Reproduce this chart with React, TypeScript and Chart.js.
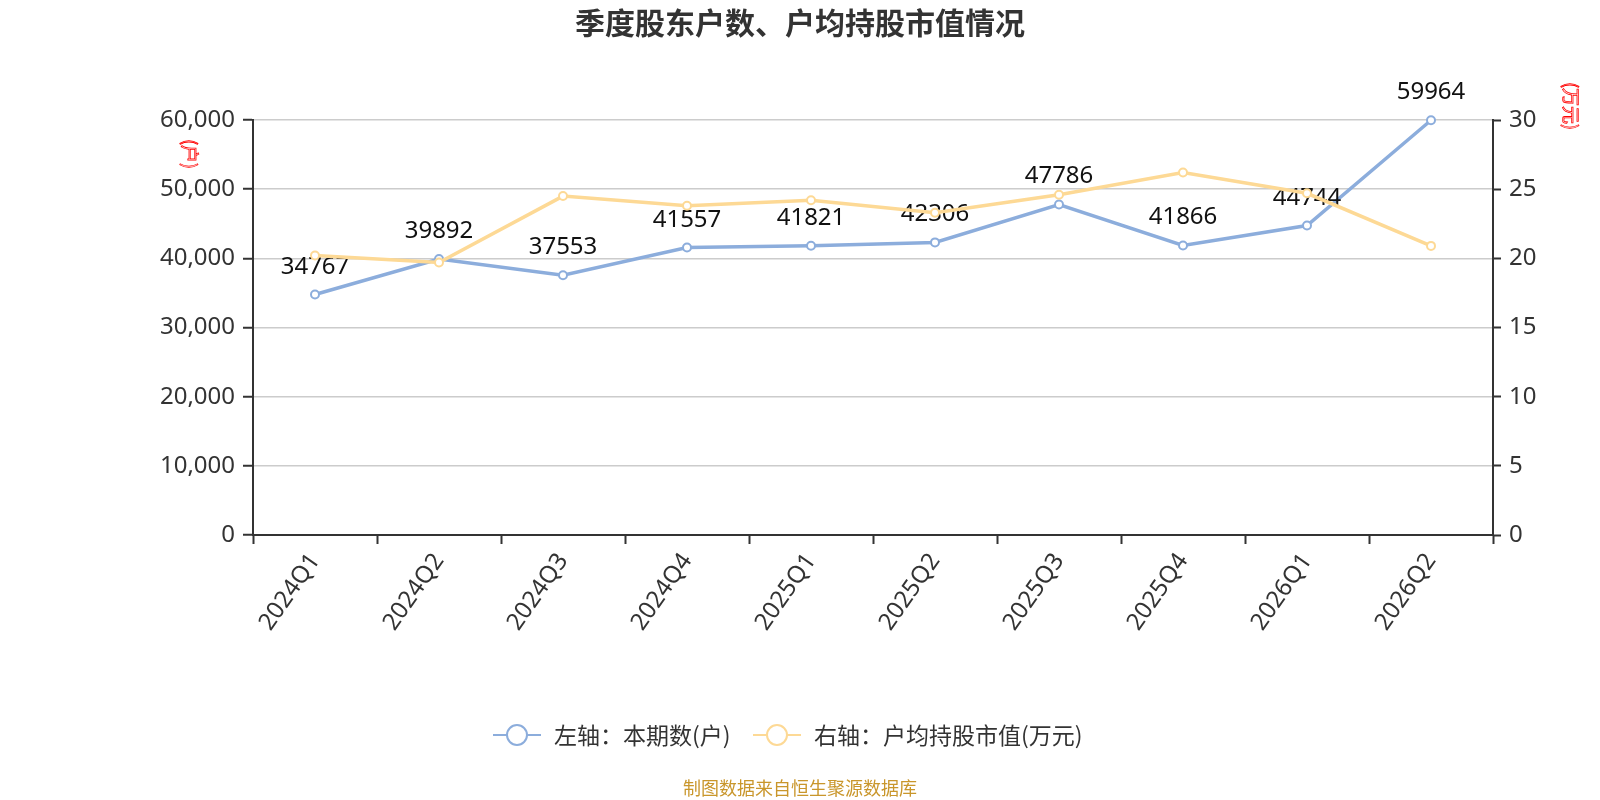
import React, { useEffect, useRef } from 'react';
import { Chart, registerables } from 'chart.js';

Chart.register(...registerables);

const quarters = ['2024Q1', '2024Q2', '2024Q3', '2024Q4', '2025Q1', '2025Q2', '2025Q3', '2025Q4', '2026Q1', '2026Q2'];
const holders = [34767, 39892, 37553, 41557, 41821, 42306, 47786, 41866, 44744, 59964];
const avgValue = [20.2, 19.7, 24.5, 23.8, 24.2, 23.3, 24.6, 26.2, 24.7, 20.9];
const legendNames = ['左轴：本期数(户)', '右轴：户均持股市值(万元)'];

const BLUE = '#8caddc';
const YELLOW = '#fdd995';
const FONT = '"Noto Sans", "Noto Sans CJK SC", sans-serif';
const CJK = '"Noto Sans CJK SC", "Noto Sans", sans-serif';

const blueLabels = {
  id: 'blueLabels',
  afterDatasetDraw(chart: any, args: any) {
    if (args.index !== 0) return;
    const ctx = chart.ctx;
    const meta = chart.getDatasetMeta(0);
    ctx.save();
    ctx.font = `24px ${FONT}`;
    ctx.fillStyle = '#111';
    ctx.textAlign = 'center';
    ctx.textBaseline = 'alphabetic';
    meta.data.forEach((pt: any, i: number) => {
      ctx.fillText(String(holders[i]), pt.x, pt.y - 21);
    });
    ctx.restore();
  },
};

const decorations = {
  id: 'decorations',
  afterDraw(chart: any) {
    const ctx = chart.ctx;
    ctx.save();
    // title
    ctx.font = `bold 30px ${CJK}`;
    ctx.fillStyle = '#333';
    ctx.textAlign = 'center';
    ctx.textBaseline = 'middle';
    ctx.fillText('季度股东户数、户均持股市值情况', 800, 23);

    // axis unit titles, outlined red, rotated clockwise
    const unit = (text: string, x: number, y: number) => {
      ctx.save();
      ctx.translate(x, y);
      ctx.rotate(Math.PI / 2);
      ctx.font = `18px ${CJK}`;
      ctx.strokeStyle = '#ff0000';
      ctx.lineWidth = 0.8;
      ctx.textAlign = 'center';
      ctx.textBaseline = 'middle';
      ctx.strokeText(text, 0, 0);
      ctx.restore();
    };
    unit('(户)', 190, 154);
    unit('(万元)', 1571, 106);

    // legend
    ctx.font = `23px ${CJK}`;
    const iconW = 48;
    const colors = [BLUE, YELLOW];
    const starts = [493, 753];
    const y = 735;
    legendNames.forEach((name, i) => {
      const x = starts[i];
      const cx = x + iconW / 2;
      ctx.strokeStyle = colors[i];
      ctx.lineWidth = 2;
      ctx.beginPath();
      ctx.moveTo(x, y);
      ctx.lineTo(x + iconW, y);
      ctx.stroke();
      ctx.beginPath();
      ctx.arc(cx, y, 10, 0, Math.PI * 2);
      ctx.fillStyle = '#fff';
      ctx.fill();
      ctx.stroke();
      ctx.fillStyle = '#333';
      ctx.textAlign = 'left';
      ctx.textBaseline = 'middle';
      ctx.fillText(name, x + iconW + 13, y);
    });

    // footer
    ctx.font = `18px ${CJK}`;
    ctx.fillStyle = '#c9962b';
    ctx.textAlign = 'center';
    ctx.textBaseline = 'middle';
    ctx.fillText('制图数据来自恒生聚源数据库', 800, 788);
    ctx.restore();
  },
};

const App: React.FC = () => {
  const canvasRef = useRef<HTMLCanvasElement>(null);

  useEffect(() => {
    document.body.style.margin = '0';
    if (!canvasRef.current) return;
    const chart = new Chart(canvasRef.current, {
      type: 'line',
      data: {
        labels: quarters,
        datasets: [
          {
            label: legendNames[0],
            data: holders,
            yAxisID: 'y',
            borderColor: BLUE,
            backgroundColor: '#fff',
            borderWidth: 3.5,
            pointRadius: 4,
            pointBorderWidth: 2,
            pointBorderColor: BLUE,
            pointBackgroundColor: '#fff',
            tension: 0,
            clip: false as any,
            order: 1,
          },
          {
            label: legendNames[1],
            data: avgValue,
            yAxisID: 'y1',
            borderColor: YELLOW,
            backgroundColor: '#fff',
            borderWidth: 3.5,
            pointRadius: 4,
            pointBorderWidth: 2,
            pointBorderColor: YELLOW,
            pointBackgroundColor: '#fff',
            tension: 0,
            clip: false as any,
            order: 0,
          },
        ],
      },
      options: {
        animation: false,
        responsive: false,
        maintainAspectRatio: false,
        layout: { padding: { top: 120, left: 0, right: 0, bottom: 0 } },
        plugins: {
          legend: { display: false },
          title: { display: false },
          tooltip: { enabled: false },
        },
        scales: {
          x: {
            type: 'category',
            offset: true,
            grid: {
              offset: true,
              drawOnChartArea: false,
              tickLength: 9,
              tickColor: '#333',
              tickWidth: 2,
            },
            border: { color: '#333', width: 2 },
            ticks: {
              minRotation: 55,
              maxRotation: 55,
              color: '#333',
              padding: 4,
              font: { size: 24, family: FONT },
            },
            afterFit: (s: any) => {
              s.height = 265;
            },
          },
          y: {
            position: 'left',
            min: 0,
            max: 60000,
            ticks: {
              stepSize: 10000,
              color: '#333',
              padding: 8,
              font: { size: 24, family: FONT },
            },
            grid: {
              color: '#cccccc',
              lineWidth: 1.5,
              tickColor: '#333',
              tickWidth: 2,
              tickLength: 10,
            },
            border: { color: '#333', width: 2 },
            afterFit: (s: any) => {
              s.width = 253;
            },
          },
          y1: {
            position: 'right',
            min: 0,
            max: 30,
            ticks: {
              stepSize: 5,
              color: '#333',
              padding: 8,
              font: { size: 24, family: FONT },
            },
            grid: {
              drawOnChartArea: false,
              tickColor: '#333',
              tickWidth: 2,
              tickLength: 8,
            },
            border: { color: '#333', width: 2 },
            afterFit: (s: any) => {
              s.width = 107;
            },
          },
        },
      },
      plugins: [blueLabels, decorations],
    });
    return () => {
      chart.destroy();
    };
  }, []);

  return (
    <div style={{ width: '1600px', height: '800px' }}>
      <canvas ref={canvasRef} width={1600} height={800} style={{ width: '1600px', height: '800px' }} />
    </div>
  );
};

export default App;
